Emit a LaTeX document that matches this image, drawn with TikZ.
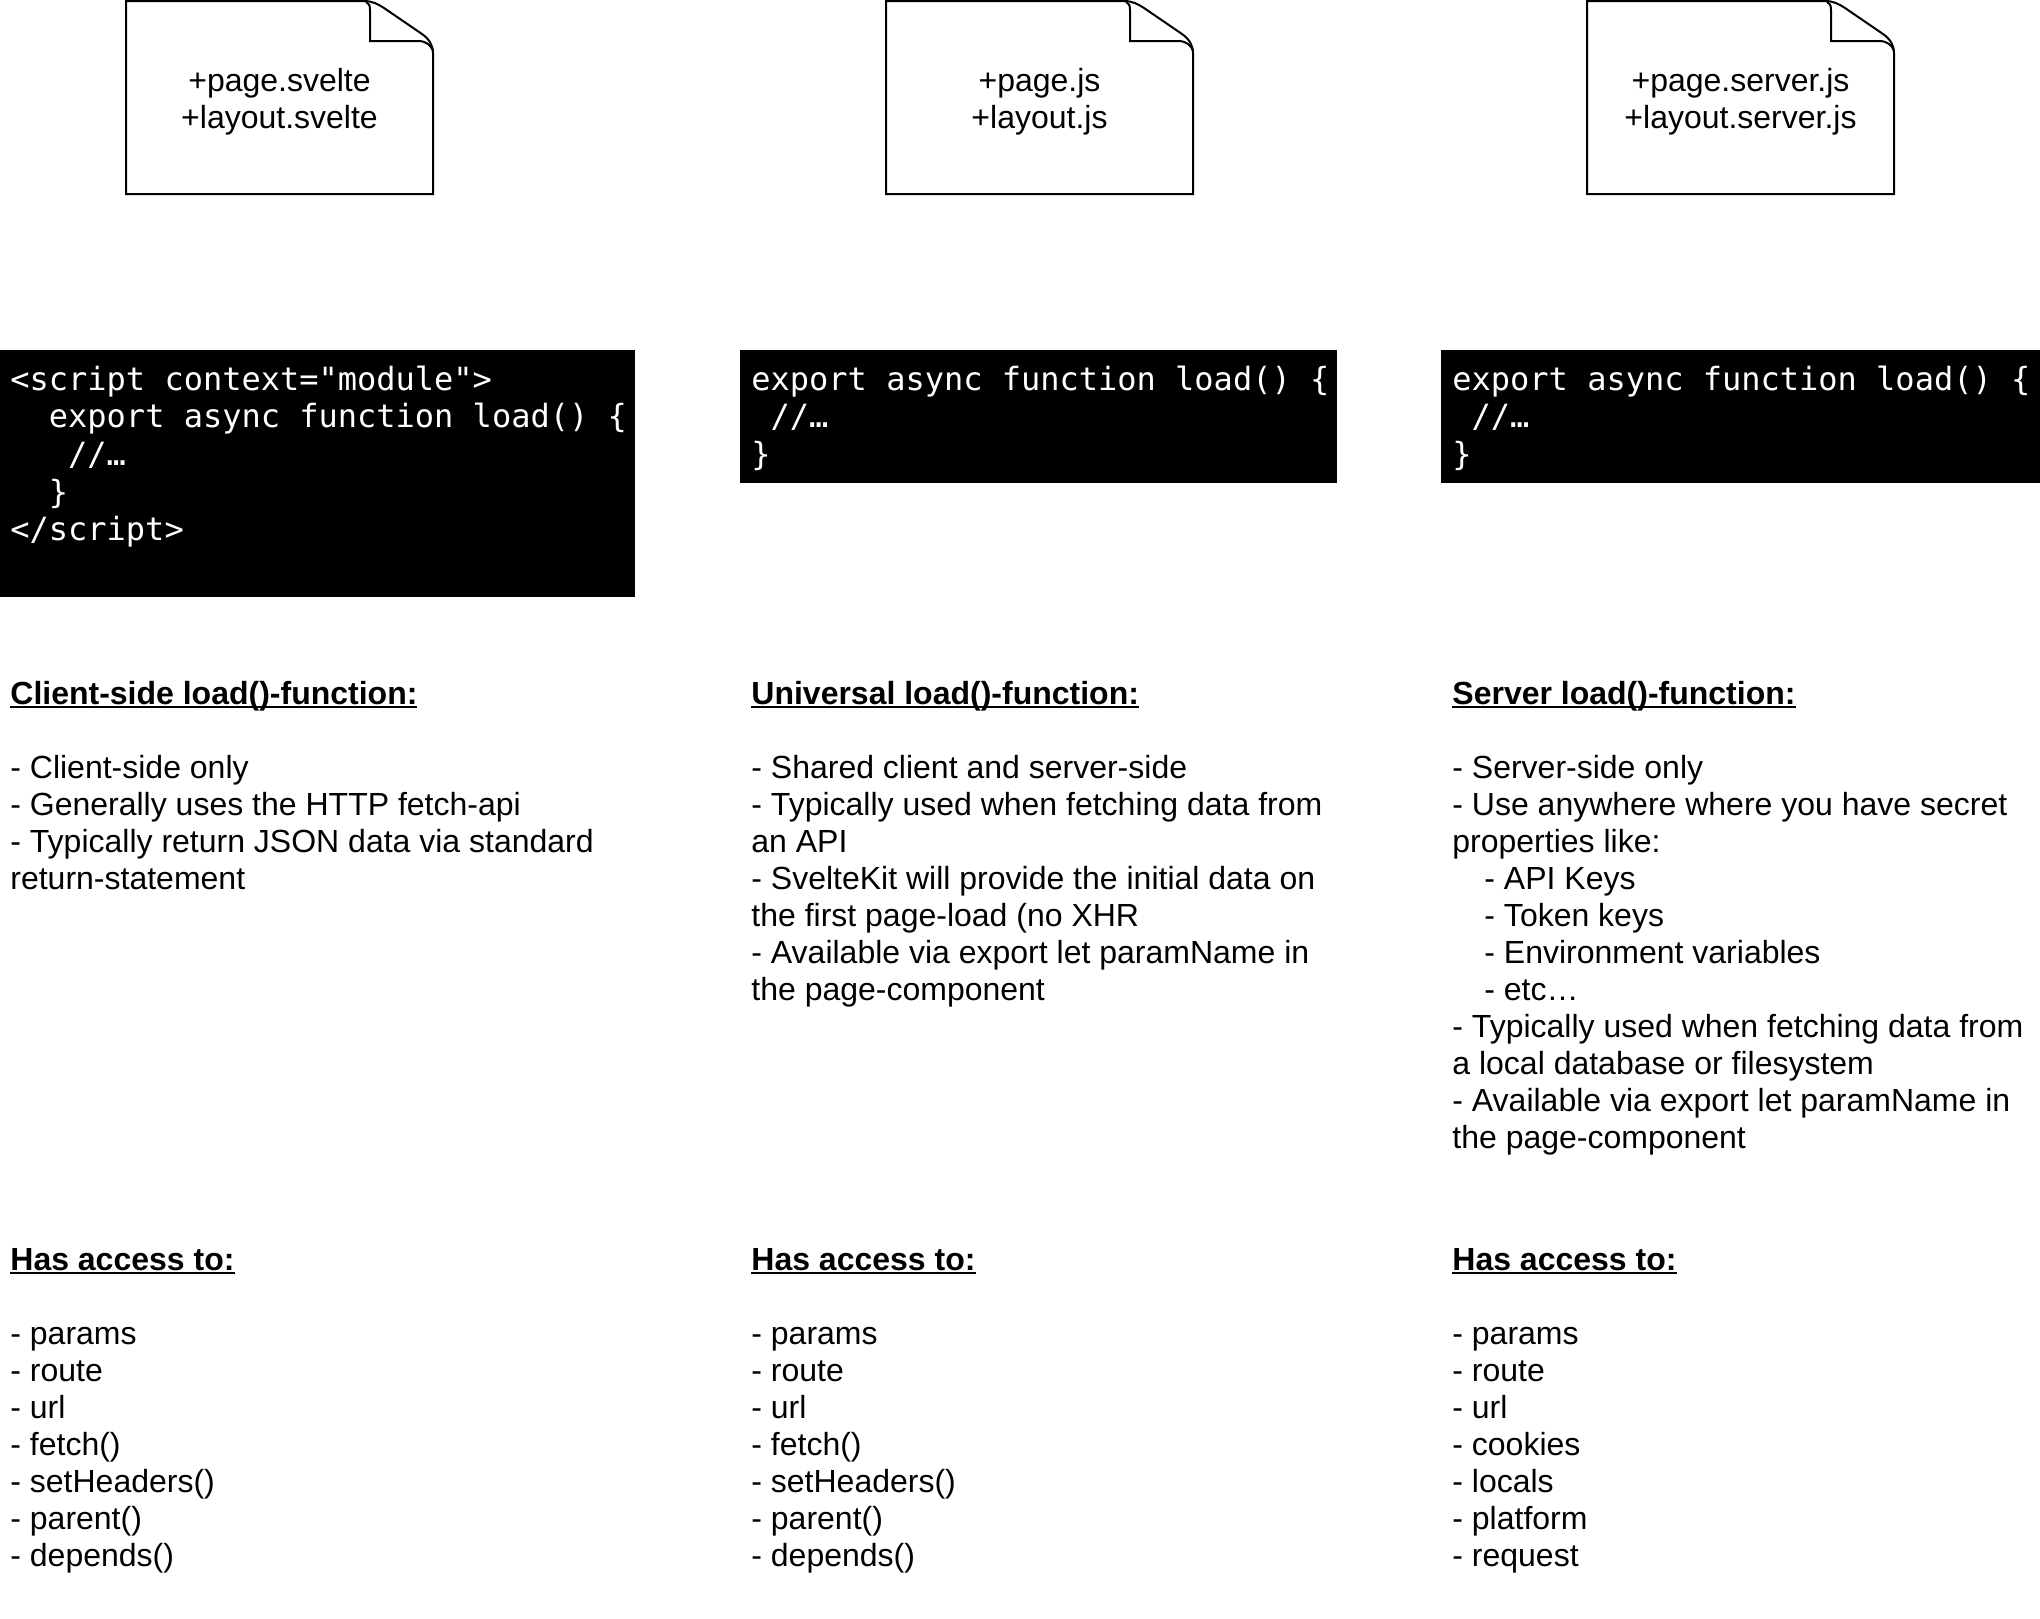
\documentclass[tikz,border=0pt]{standalone}
\usepackage{fontspec}
\setmainfont{Liberation Sans}
\setmonofont{DejaVu Sans Mono}
\newcommand{\textlines}[1]{\begin{tabular}[t]{@{}l@{}}#1\end{tabular}}
\newsavebox{\hdrbox}
\newcommand{\hdr}[1]{\sbox{\hdrbox}{\textbf{#1}}\rlap{\rule[-2.2pt]{\wd\hdrbox}{1.1pt}}\usebox{\hdrbox}}
\begin{document}
\begin{tikzpicture}[x=0.5pt,y=-0.5pt,
  docshape/.pic={
    \draw[line width=1pt,fill=white] (0,0) -- (238,0)
      .. controls (246,0) and (252,3) .. (258,7) -- (296,33)
      .. controls (303,38) and (307,44) .. (307,52) -- (307,193) -- (0,193) -- cycle;
    \draw[line width=1pt] (240,1) .. controls (244,4) .. (244,12) -- (244,40) -- (292,40)
      .. controls (300,40) and (305,44) .. (307,50);
  },
  doctext/.style={align=center,inner sep=0pt,font=\fontsize{16pt}{18.5pt}\selectfont},
  codebox/.style={fill=black,draw=none,anchor=north west,inner sep=0pt},
  codetext/.style={anchor=base west,inner sep=0pt,text=white,
    font=\ttfamily\fontsize{16pt}{18.85pt}\selectfont},
  bodytext/.style={anchor=base west,inner sep=0pt,
    font=\fontsize{16pt}{18.5pt}\selectfont},
]
\useasboundingbox (0,0) rectangle (2040,1618);

% documents
\pic at (126,1) {docshape};
\node[doctext] (doc1) at (279.5,102) {+page.svelte\\+layout.svelte};
\pic at (886,1) {docshape};
\node[doctext] (doc2) at (1039.5,102) {+page.js\\+layout.js};
\pic at (1587,1) {docshape};
\node[doctext] (doc3) at (1740.5,102) {+page.server.js\\+layout.server.js};

% code boxes
\node[codebox,minimum width=317.5pt,minimum height=123.5pt] (code1box) at (0,350) {};
\node[codetext] (code1) at (10,390) {\textlines{<script context="module">\\
\phantom{xx}export async function load() \{\\
\phantom{xxx}//…\\
\phantom{xx}\}\\
</script>}};
\node[codebox,minimum width=298.5pt,minimum height=66.5pt] (code2box) at (740,350) {};
\node[codetext] (code2) at (751,390) {\textlines{export async function load() \{\\
\phantom{x}//…\\
\}}};
\node[codebox,minimum width=299.5pt,minimum height=66.5pt] (code3box) at (1441,350) {};
\node[codetext] (code3) at (1452,390) {\textlines{export async function load() \{\\
\phantom{x}//…\\
\}}};

% descriptions
\node[bodytext] (desc1) at (10,704) {\textlines{\hdr{Client-side load()-function:}\\
\\
- Client-side only\\
- Generally uses the HTTP fetch-api\\
- Typically return JSON data via standard\\
return-statement}};
\node[bodytext] (desc2) at (751,704) {\textlines{\hdr{Universal load()-function:}\\
\\
- Shared client and server-side\\
- Typically used when fetching data from\\
an API\\
- SvelteKit will provide the initial data on\\
the first page-load (no XHR\\
- Available via export let paramName in\\
the page-component}};
\node[bodytext] (desc3) at (1452,704) {\textlines{\hdr{Server load()-function:}\\
\\
- Server-side only\\
- Use anywhere where you have secret\\
properties like:\\
\phantom{xx}- API Keys\\
\phantom{xx}- Token keys\\
\phantom{xx}- Environment variables\\
\phantom{xx}- etc…\\
- Typically used when fetching data from\\
a local database or filesystem\\
- Available via export let paramName in\\
the page-component}};

% access lists
\node[bodytext] (acc1) at (10,1270) {\textlines{\hdr{Has access to:}\\
\\
- params\\
- route\\
- url\\
- fetch()\\
- setHeaders()\\
- parent()\\
- depends()}};
\node[bodytext] (acc2) at (751,1270) {\textlines{\hdr{Has access to:}\\
\\
- params\\
- route\\
- url\\
- fetch()\\
- setHeaders()\\
- parent()\\
- depends()}};
\node[bodytext] (acc3) at (1452,1270) {\textlines{\hdr{Has access to:}\\
\\
- params\\
- route\\
- url\\
- cookies\\
- locals\\
- platform\\
- request}};
\end{tikzpicture}
\end{document}
